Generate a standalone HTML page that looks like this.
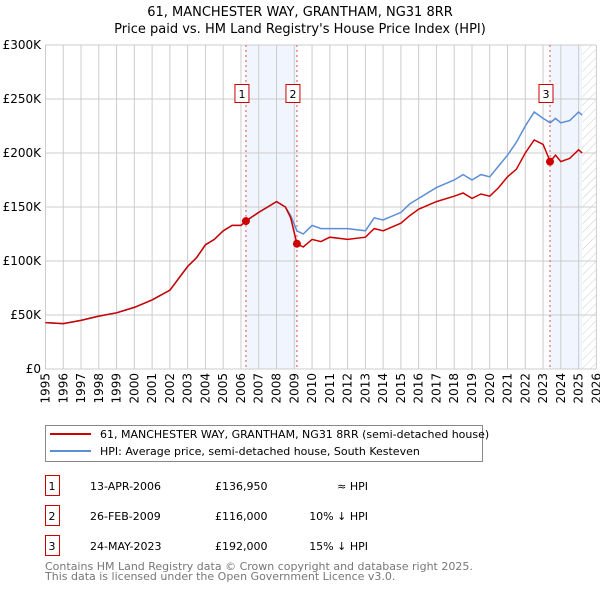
<!DOCTYPE html>
<html><head><meta charset="utf-8"><style>
body{margin:0;background:#fff;font-family:"DejaVu Sans","Liberation Sans",sans-serif;}
svg text{font-family:"DejaVu Sans","Liberation Sans",sans-serif;}
</style></head><body>
<svg id="c" width="600" height="590" xmlns="http://www.w3.org/2000/svg">
<defs><pattern id="hatch" width="6" height="6" patternUnits="userSpaceOnUse" patternTransform="rotate(45)"><line x1="0" y1="0" x2="0" y2="6" stroke="#ccc" stroke-width="1"/></pattern></defs>
<text x="300" y="16" text-anchor="middle" font-size="13">61, MANCHESTER WAY, GRANTHAM, NG31 8RR</text>
<text x="300" y="33" text-anchor="middle" font-size="13">Price paid vs. HM Land Registry's House Price Index (HPI)</text>
<g id="plot"></g>
<g>
<rect x="45.5" y="425.5" width="437" height="36" fill="#fff" stroke="#888"/>
<line x1="50" y1="434" x2="91" y2="434" stroke="#cc0000" stroke-width="2"/>
<text x="100" y="438" font-size="11">61, MANCHESTER WAY, GRANTHAM, NG31 8RR (semi-detached house)</text>
<line x1="50" y1="451" x2="91" y2="451" stroke="#5b8ed6" stroke-width="2"/>
<text x="100" y="455" font-size="11">HPI: Average price, semi-detached house, South Kesteven</text>
</g>
<g id="tbl" font-size="11"></g>
<text x="45" y="570" font-size="11" fill="#777">Contains HM Land Registry data © Crown copyright and database right 2025.</text>
<text x="45" y="580" font-size="11" fill="#777">This data is licensed under the Open Government Licence v3.0.</text>
</svg>
<script>
const yearsRed=[1995,1996,1997,1998,1999,2000,2001,2002,2003,2003.5,2004,2004.5,2005,2005.5,2006,2006.28,2007,2007.5,2008,2008.5,2008.8,2009.15,2009.5,2010,2010.5,2011,2012,2013,2013.5,2014,2015,2015.5,2016,2017,2018,2018.5,2019,2019.5,2020,2020.5,2021,2021.5,2022,2022.5,2023,2023.4,2023.7,2024,2024.5,2025,2025.2];
const redVals=[43,42,45,49,52,57,64,73,95,103,115,120,128,133,133,137,145,150,155,150,140,116,113,120,118,122,120,122,130,128,135,142,148,155,160,163,158,162,160,168,178,185,200,212,208,192,198,192,195,203,200];
const blueVals=[43,42,45,49,52,57,64,73,95,103,115,120,128,133,133,137,145,150,155,150,142,128,125,133,130,130,130,128,140,138,145,153,158,168,175,180,175,180,178,188,198,210,225,238,232,228,232,228,230,238,235];
const yTicks=[0,50,100,150,200,250,300];
const yTickLabels=["£0","£50K","£100K","£150K","£200K","£250K","£300K"];
const xTicks=[1995,1996,1997,1998,1999,2000,2001,2002,2003,2004,2005,2006,2007,2008,2009,2010,2011,2012,2013,2014,2015,2016,2017,2018,2019,2020,2021,2022,2023,2024,2025,2026];
const saleYears=[2006.28,2009.15,2023.39];
const salePrices=[136.95,116,192];
const saleLabels=["1","2","3"];
const saleDates=["13-APR-2006","26-FEB-2009","24-MAY-2023"];
const salePriceText=["£136,950","£116,000","£192,000"];
const saleHpiText=["≈ HPI","10% ↓ HPI","15% ↓ HPI"];

const NS="http://www.w3.org/2000/svg";
const X=y=>45.5+(y-1995)*17.77;
const Y=v=>369-v*54/50;
function mk(t,a,p){const e=document.createElementNS(NS,t);for(const k in a)e.setAttribute(k,a[k]);(p||plot).appendChild(e);return e;}
const plot=document.getElementById('plot');
let s1=mk('rect',{x:X(saleYears[0]),y:45,width:X(saleYears[1])-X(saleYears[0]),height:324,fill:'#f1f5fd'});


let s2=mk('rect',{x:X(saleYears[2]),y:45,width:X(2025.2)-X(saleYears[2]),height:324,fill:'#f1f5fd'});


let h=mk('rect',{x:X(2025.2),y:45,width:X(2026)-X(2025.2),height:324,fill:'url(#hatch)'});


yTicks.forEach((v,i)=>{
 let l=mk('line',{x1:45,x2:596,y1:Y(v),y2:Y(v),stroke:'#ccc'});
 
 
 let t=mk('text',{x:41,y:Y(v)+4,'text-anchor':'end','font-size':12});
 
 
 t.textContent=yTickLabels[i];
});
xTicks.forEach(yr=>{
 let l=mk('line',{x1:X(yr),x2:X(yr),y1:45,y2:369,stroke:'#ccc'});
 
 
 let t=mk('text',{x:X(yr)+4,y:373,'text-anchor':'end','font-size':12,transform:'rotate(-90 '+(X(yr)+4)+' 373)'});
 
 
 t.textContent=yr;
});
saleYears.forEach((yr,i)=>{
 let l=mk('line',{x1:X(yr),x2:X(yr),y1:45,y2:369,stroke:'#e05050','stroke-dasharray':'2,3'});
 
 
});
const pts=v=>yearsRed.map((y,i)=>X(y).toFixed(1)+','+Y(v[i]).toFixed(1)).join(' ');
let bl=mk('polyline',{points:pts(blueVals),fill:'none',stroke:'#5b8ed6','stroke-width':1.5});


let rl=mk('polyline',{points:pts(redVals),fill:'none',stroke:'#cc0000','stroke-width':1.5});


saleYears.forEach((yr,i)=>{
 let c=mk('circle',{cx:X(yr),cy:Y(salePrices[i]),r:4,fill:'#cc0000'});
 
 
 let bx=X(yr)-4;
 let r=mk('rect',{x:bx-7,y:84.5,width:14,height:18,fill:'#fff',stroke:'#cc0000'});
 
 
 let t=mk('text',{x:bx,y:98,'text-anchor':'middle','font-size':11});
 
 
 t.textContent=saleLabels[i];
});
const tbl=document.getElementById('tbl');
saleLabels.forEach((lab,i)=>{
 const y=483+i*30;
 let r=mk('rect',{x:45.5,y:y-7.5,width:14,height:20,fill:'#fff',stroke:'#cc0000'},tbl);
 
 
 const cells=[[52,lab,'middle'],[90,saleDates[i],'start'],[215,salePriceText[i],'start'],[368,saleHpiText[i],'end']];
 cells.forEach(c=>{let t=mk('text',{x:c[0],y:y+7,'text-anchor':c[2]},tbl);
  
  
  t.textContent=c[1];});
});
</script>
</body></html>
